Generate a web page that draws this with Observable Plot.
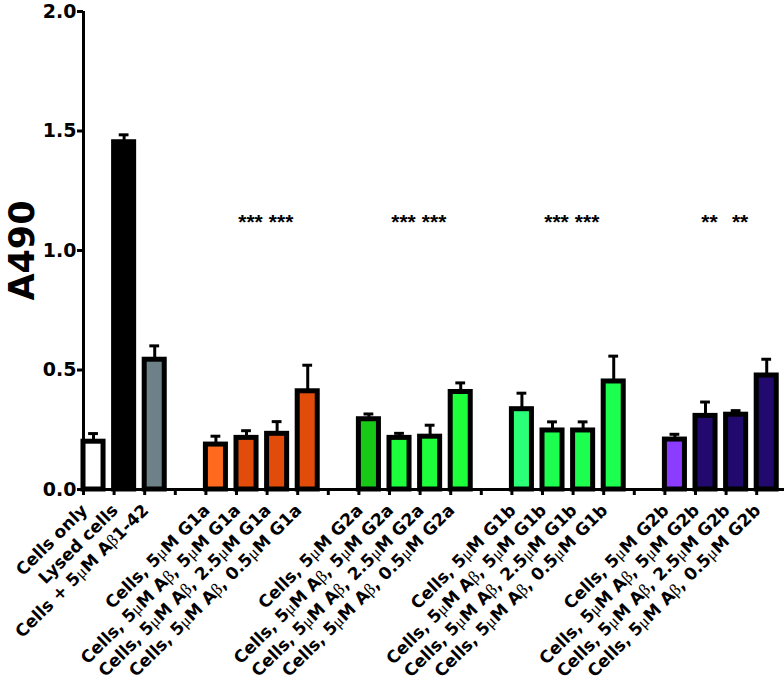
<!DOCTYPE html>
<html>
<head>
<meta charset="utf-8">
<script src="https://cdn.jsdelivr.net/npm/d3@7"></script>
<script src="https://cdn.jsdelivr.net/npm/@observablehq/plot@0.6"></script>
<style>
  html, body { margin: 0; padding: 0; background: #fff; overflow: hidden; }
  #chart svg { display: block; }
</style>
</head>
<body>
<div id="chart"></div>
<script>
// ---- data ----
const categories = [
  "Cells only", "Lysed cells", "Cells + 5μM Aβ1-42",
  "Cells, 5μM G1a", "Cells, 5μM Aβ, 5μM G1a", "Cells, 5μM Aβ, 2.5μM G1a", "Cells, 5μM Aβ, 0.5μM G1a",
  "Cells, 5μM G2a", "Cells, 5μM Aβ, 5μM G2a", "Cells, 5μM Aβ, 2.5μM G2a", "Cells, 5μM Aβ, 0.5μM G2a",
  "Cells, 5μM G1b", "Cells, 5μM Aβ, 5μM G1b", "Cells, 5μM Aβ, 2.5μM G1b", "Cells, 5μM Aβ, 0.5μM G1b",
  "Cells, 5μM G2b", "Cells, 5μM Aβ, 5μM G2b", "Cells, 5μM Aβ, 2.5μM G2b", "Cells, 5μM Aβ, 0.5μM G2b"
];
// slot index along the x axis (empty slots separate the groups)
const slots = [0, 1, 2, 4, 5, 6, 7, 9, 10, 11, 12, 14, 15, 16, 17, 19, 20, 21, 22];
const values = [0.200, 1.453, 0.543, 0.188, 0.216, 0.233, 0.411, 0.294, 0.216, 0.221, 0.408,
                0.336, 0.247, 0.247, 0.452, 0.209, 0.308, 0.313, 0.477];
const errors = [0.034, 0.031, 0.058, 0.035, 0.030, 0.051, 0.109, 0.022, 0.019, 0.048, 0.038,
                0.067, 0.036, 0.036, 0.106, 0.022, 0.058, 0.017, 0.068];
const colors = ["#ffffff", "#000000", "#6e8088",
                "#ff6a1e", "#e24c0a", "#e24c0a", "#e24c0a",
                "#17c817", "#1cff3a", "#1cff3a", "#1cff3a",
                "#2bff78", "#1cff4e", "#1cff4e", "#1cff4e",
                "#8c3cff", "#22096e", "#22096e", "#22096e"];
const yTicks = [0, 0.5, 1.0, 1.5, 2.0];
const starSlots = [5, 6, 10, 11, 15, 16, 20, 21];
const starLabels = ["***", "***", "***", "***", "***", "***", "**", "**"];
const starLevel = 1.13;
const yLabel = "A490";

const bars = categories.map((c, i) => ({label: c, slot: slots[i], value: values[i], err: errors[i], color: colors[i]}));
const stars = starSlots.map((s, i) => ({slot: s, text: starLabels[i], level: starLevel}));

const font = "'DejaVu Sans', 'Liberation Sans', Arial, sans-serif";
const starFont = "'Liberation Sans', Arial, sans-serif";
const slotW = 30.6;
const barW = 0.655;   // bar width in slot units
const mid = barW / 2;

const chart = Plot.plot({
  width: 784,
  height: 686,
  marginTop: 11,
  marginBottom: 197,
  marginLeft: 83,
  marginRight: 0,
  style: {fontFamily: font, background: "#fff"},
  x: {type: "linear", domain: [0, 23], range: [83, 83 + 23 * slotW]},
  y: {domain: [0, 2]},
  marks: [
    // bars
    Plot.rectY(bars, {x1: d => d.slot, x2: d => d.slot + barW, y1: 0, y2: "value",
      fill: "color", stroke: "#000", strokeWidth: 5}),
    // error bars (upper only)
    Plot.ruleX(bars, {x: d => d.slot + mid, y1: "value", y2: d => d.value + d.err, stroke: "#000", strokeWidth: 3}),
    Plot.ruleY(bars, {y: d => d.value + d.err, x1: d => d.slot + mid - 0.16, x2: d => d.slot + mid + 0.16,
      stroke: "#000", strokeWidth: 3}),
    // axes
    Plot.ruleY([0], {stroke: "#000", strokeWidth: 3}),
    Plot.ruleX([0], {y1: 0, y2: 2, stroke: "#000", strokeWidth: 3}),
    Plot.axisX(d3.range(23), {tickSize: 6, strokeWidth: 3, tickFormat: () => "", label: null}),
    Plot.axisY(yTicks, {tickSize: 6, strokeWidth: 3, tickPadding: 1, tickFormat: d3.format(".1f"),
      fontSize: 19, fontWeight: "bold", fill: "#000", label: null}),
    // y label
    Plot.text([yLabel], {frameAnchor: "left", textAnchor: "middle", dx: -61, rotate: -90,
      fontSize: 35, fontWeight: "bold", fill: "#000"}),
    // category labels
    Plot.text(bars, {x: "slot", y: 0, text: "label", rotate: -45, textAnchor: "end",
      dx: 1, dy: 18, fontSize: 17, fontWeight: "bold", fill: "#000"}),
    // significance stars
    Plot.text(stars, {x: d => d.slot + mid, y: "level", text: "text", dx: 4, dy: 3,
      fontSize: 21, fontWeight: "bold", fill: "#000", fontFamily: starFont})
  ]
});

// render μ and β in a regular-weight serif face, as in the reference
const ns = "http://www.w3.org/2000/svg";
for (const t of chart.querySelectorAll("text")) {
  if (t.querySelector("tspan")) continue;
  const s = t.textContent;
  if (!/[μβ]/.test(s)) continue;
  t.textContent = "";
  for (const part of s.split(/([μβ])/)) {
    if (!part) continue;
    const ts = document.createElementNS(ns, "tspan");
    ts.textContent = part;
    if (/[μβ]/.test(part)) {
      ts.setAttribute("font-weight", "normal");
      ts.setAttribute("font-family", "'Liberation Serif', 'DejaVu Serif', serif");
    }
    t.appendChild(ts);
  }
}
document.getElementById("chart").appendChild(chart);
</script>
</body>
</html>
